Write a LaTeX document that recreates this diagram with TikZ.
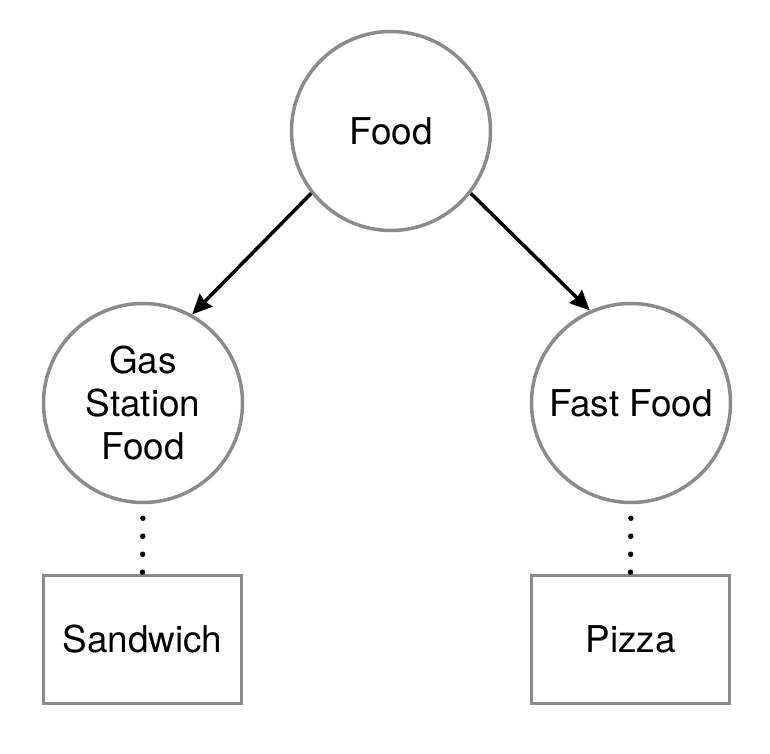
\documentclass[tikz,border=0pt]{standalone}
\usepackage{fontspec}
\setmainfont{TeX Gyre Heros}
\usepackage{tikz}
\usetikzlibrary{arrows.meta, positioning, calc}
\definecolor{nodegray}{RGB}{138,139,143}

\begin{document}
\begin{tikzpicture}[
        >={Stealth[length=0.4cm, width=0.36cm, inset=0.04cm]},
        category/.style={circle, draw=nodegray, line width=0.07cm, minimum size=3.98cm, inner sep=0pt, align=center, font=\fontsize{21}{24.6}\selectfont},
        item/.style={rectangle, draw=nodegray, line width=0.07cm, minimum width=3.96cm, minimum height=2.56cm, inner sep=0pt, font=\fontsize{21}{24.6}\selectfont},
        edge_style/.style={->, line width=0.07cm, black},
        dots_style/.style={line width=0.11cm, line cap=round, dash pattern=on 0pt off 0.36cm, dash phase=0.08cm}
    ]
        \useasboundingbox (0,0) rectangle (15.4,-15.08);

        % Nodos de categoria
        \node[category] (Food) at (7.82, -2.62) {Food};
        \node[category] (GasFood) at (2.86, -8.06) {Gas\\Station\\Food};
        \node[category] (FastFood) at (12.62, -8.06) {Fast Food};

        % Ejemplos
        \node[item] (Sandwich) at (2.85, -12.79) {Sandwich};
        \node[item] (Pizza) at (12.61, -12.79) {Pizza};

        % Conexiones
        \draw[edge_style] (Food.218) -- (GasFood.61);
        \draw[edge_style] (Food.322) -- (FastFood.114);

        \draw[dots_style] (GasFood.south) -- (Sandwich.north);
        \draw[dots_style] (FastFood.south) -- (Pizza.north);

    \end{tikzpicture}
\end{document}
